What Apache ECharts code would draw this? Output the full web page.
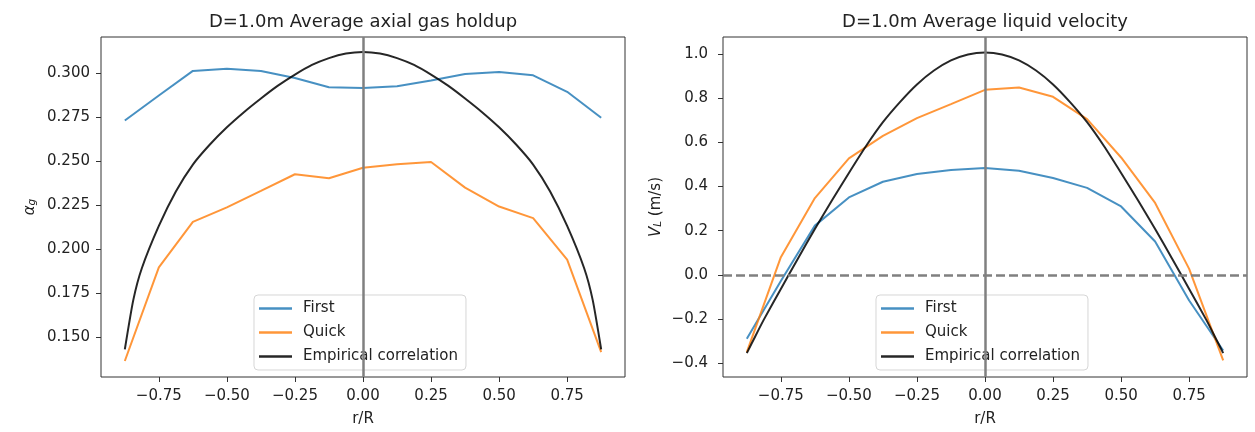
<!DOCTYPE html>
<html>
<head>
<meta charset="utf-8">
<script src="https://cdn.jsdelivr.net/npm/echarts@6/dist/echarts.min.js"></script>
<style>
html,body{margin:0;padding:0;background:#fff;}
#chart{width:1255px;height:432px;}
</style>
</head>
<body>
<div id="chart"></div>
<script>
// Radial stations of the simulated profiles (r/R)
const radialPositions = [-0.875,-0.75,-0.625,-0.5,-0.375,-0.25,-0.125,0,0.125,0.25,0.375,0.5,0.625,0.75,0.875];
// Radial stations sampled along the empirical correlation curves
const correlationPositions = [-0.875,-0.84375,-0.8125,-0.75,-0.6875,-0.625,-0.5625,-0.5,-0.4375,-0.375,-0.3125,-0.25,-0.1875,-0.125,-0.0625,0,
  0.0625,0.125,0.1875,0.25,0.3125,0.375,0.4375,0.5,0.5625,0.625,0.6875,0.75,0.8125,0.84375,0.875];

// Average axial gas holdup
const holdupFirst = [0.2733,0.2875,0.3015,0.3028,0.3015,0.2975,0.2922,0.2918,0.2928,0.2960,0.2998,0.3009,0.2990,0.2896,0.2748];
const holdupQuick = [0.1364,0.1897,0.2156,0.2238,0.2332,0.2427,0.2404,0.2464,0.2484,0.2497,0.2351,0.2243,0.2177,0.1941,0.1415];
const holdupCorrelation = [0.1430,0.1712,0.1892,0.2133,0.2329,0.2482,0.2596,0.2694,0.2780,0.2858,0.2931,0.2994,0.3049,0.3088,0.3114,0.3123,
  0.3114,0.3088,0.3049,0.2994,0.2931,0.2858,0.2780,0.2694,0.2596,0.2482,0.2329,0.2133,0.1892,0.1712,0.1430];

// Average liquid velocity (m/s)
const velocityFirst = [-0.290,-0.028,0.223,0.351,0.422,0.457,0.475,0.484,0.472,0.439,0.394,0.310,0.151,-0.116,-0.343];
const velocityQuick = [-0.350,0.080,0.348,0.528,0.630,0.710,0.774,0.8385,0.849,0.807,0.706,0.532,0.326,0.027,-0.388];
const velocityCorrelation = [-0.355,-0.278,-0.203,-0.064,0.073,0.208,0.337,0.462,0.583,0.692,0.783,0.863,0.926,0.972,0.999,1.008,
  0.999,0.972,0.926,0.863,0.783,0.692,0.583,0.462,0.337,0.208,0.073,-0.064,-0.203,-0.278,-0.355];

// Tick labels
const xTicks = [-0.75,-0.5,-0.25,0,0.25,0.5,0.75];
const holdupTicks = [0.150,0.175,0.200,0.225,0.250,0.275,0.300];
const velocityTicks = [-0.4,-0.2,0,0.2,0.4,0.6,0.8,1.0];

const seriesNames = ['First','Quick','Empirical correlation'];
const titles = ['D=1.0m Average axial gas holdup','D=1.0m Average liquid velocity'];

const FONT = 'DejaVu Sans';
const TEXT = '#222';
const EDGE = '#333';
const COLORS = ['rgba(31,119,180,0.82)','rgba(255,127,14,0.82)','rgba(0,0,0,0.85)'];

const fmt = (d) => (v) => Number(v).toFixed(d).replace('-', '\u2212');
const pairs = (xs, ys) => xs.map((x, i) => [x, ys[i]]);

const grids = [
  {left:101, top:37, width:524, height:341},
  {left:723, top:37, width:524, height:341}
].map(g => Object.assign(g, {show:true, borderColor:EDGE, borderWidth:1, backgroundColor:'transparent'}));

function xAxisFor(idx) {
  return {
    type:'value', gridIndex:idx, min:-0.9625, max:0.9625, position:'bottom',
    axisLine:{show:false, onZero:false},
    axisTick:{show:true, customValues:xTicks, length:5, lineStyle:{color:EDGE, width:1}},
    axisLabel:{customValues:xTicks, formatter:fmt(2), fontSize:15, fontFamily:FONT, color:TEXT, margin:12},
    splitLine:{show:false},
    name:'r/R', nameLocation:'middle', nameGap:35,
    nameTextStyle:{fontSize:15, fontFamily:FONT, color:TEXT}
  };
}

function yAxisFor(idx, min, max, ticks, digits, name, gap, labelMargin, rich) {
  return {
    type:'value', gridIndex:idx, min:min, max:max, position:'left',
    axisLine:{show:false, onZero:false},
    axisTick:{show:true, customValues:ticks, length:5, lineStyle:{color:EDGE, width:1}},
    axisLabel:{customValues:ticks, formatter:fmt(digits), fontSize:15, fontFamily:FONT, color:TEXT, margin:labelMargin},
    splitLine:{show:false},
    name:name, nameLocation:'middle', nameGap:gap,
    nameTextStyle:{fontSize:15, fontFamily:FONT, color:TEXT, rich:rich}
  };
}

const subRich = {
  it:{fontSize:15, fontFamily:FONT, fontStyle:'italic', color:TEXT},
  sub:{fontSize:10.5, fontFamily:FONT, fontStyle:'italic', color:TEXT, verticalAlign:'bottom', padding:[5,0,0,0]},
  rm:{fontSize:15, fontFamily:FONT, color:TEXT}
};

function lineSeries(name, idx, data, colorIdx, smooth) {
  return {
    name:name, type:'line', xAxisIndex:idx, yAxisIndex:idx,
    data:data, symbol:'none', smooth:smooth ? 0.2 : false,
    lineStyle:{color:COLORS[colorIdx], width:2},
    itemStyle:{color:COLORS[colorIdx]},
    animation:false, z:2
  };
}

// Reference lines at r/R = 0 and V_L = 0
function refLine(idx, spec, dashed) {
  return {
    type:'line', xAxisIndex:idx, yAxisIndex:idx, data:[], silent:true, animation:false, z:3,
    markLine:{
      silent:true, symbol:['none','none'], animation:false,
      label:{show:false},
      lineStyle:{color:'#808080', width:2.5, type: dashed ? [9,4] : 'solid', opacity:1},
      data:[spec]
    }
  };
}

function legendAt(left) {
  return {
    show:true, orient:'vertical', left:left, top:295, data:seriesNames,
    icon:'rect', itemWidth:33, itemHeight:2.5, itemGap:7,
    padding:[5,8,5,5], backgroundColor:'rgba(255,255,255,0.8)',
    borderColor:'rgba(204,204,204,0.8)', borderWidth:1, borderRadius:4,
    selectedMode:false,
    textStyle:{fontSize:15, fontFamily:FONT, color:TEXT, lineHeight:17, padding:[0,0,0,6]}
  };
}

const option = {
  backgroundColor:'#fff',
  animation:false,
  title: titles.map((t, i) => ({
    text:t, left: i === 0 ? 363 : 985, top:13, textAlign:'center', padding:0,
    textStyle:{fontSize:18, fontWeight:'normal', fontFamily:FONT, color:TEXT}
  })),
  grid: grids,
  legend: [legendAt(254), legendAt(876)],
  xAxis: [xAxisFor(0), xAxisFor(1)],
  yAxis: [
    yAxisFor(0, 0.1273, 0.3208, holdupTicks, 3, '{it|α}{sub|g}', 63, 11, subRich),
    yAxisFor(1, -0.463, 1.078, velocityTicks, 1, '{it|V}{sub|L}{rm| (m/s)}', 59, 15, subRich)
  ],
  series: [
    lineSeries(seriesNames[0], 0, pairs(radialPositions, holdupFirst), 0, false),
    lineSeries(seriesNames[1], 0, pairs(radialPositions, holdupQuick), 1, false),
    lineSeries(seriesNames[2], 0, pairs(correlationPositions, holdupCorrelation), 2, true),
    refLine(0, {xAxis:0}, false),
    lineSeries(seriesNames[0], 1, pairs(radialPositions, velocityFirst), 0, false),
    lineSeries(seriesNames[1], 1, pairs(radialPositions, velocityQuick), 1, false),
    lineSeries(seriesNames[2], 1, pairs(correlationPositions, velocityCorrelation), 2, true),
    refLine(1, {yAxis:0}, true),
    refLine(1, {xAxis:0}, false)
  ]
};

const chart = echarts.init(document.getElementById('chart'), null, {renderer:'canvas'});
chart.setOption(option);
</script>
</body>
</html>
